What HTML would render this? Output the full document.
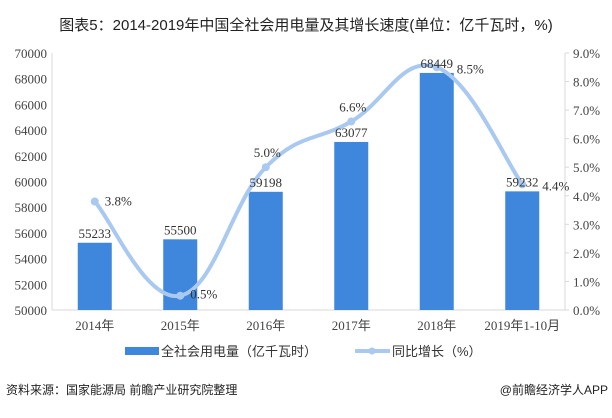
<!DOCTYPE html>
<html><head><meta charset="utf-8"><style>
body{margin:0;background:#fff;font-family:"Liberation Serif","Noto Serif CJK SC",serif;}
svg text{font-family:"Liberation Serif","Noto Sans CJK SC",serif;}
</style></head><body>
<svg id="c" width="612" height="413" xmlns="http://www.w3.org/2000/svg">
<text x="306" y="30" text-anchor="middle" font-size="15" fill="#222" style="font-family:'Liberation Sans','Noto Sans CJK SC',sans-serif">图表5：2014-2019年中国全社会用电量及其增长速度(单位：亿千瓦时，%)</text>
<g id="axes"></g><g id="bars"></g><g id="line"></g><g id="labels"></g>
<g>
<rect x="125" y="347" width="34" height="8" fill="#3f86dd"/>
<text x="161" y="356" font-size="13" fill="#333" style="font-family:'Liberation Sans','Noto Sans CJK SC',sans-serif">全社会用电量（亿千瓦时）</text>
<line x1="355" y1="351" x2="390" y2="351" stroke="#a9c9f1" stroke-width="4"/>
<circle cx="372" cy="351" r="3.5" fill="#a9c9f1"/>
<text x="392" y="356" font-size="13" fill="#333" style="font-family:'Liberation Sans','Noto Sans CJK SC',sans-serif">同比增长（%）</text>
</g>
<text x="6" y="394" font-size="12" fill="#222" style="font-family:'Liberation Sans','Noto Sans CJK SC',sans-serif">资料来源：国家能源局 前瞻产业研究院整理</text>
<text x="608" y="394" font-size="12" fill="#222" text-anchor="end" style="font-family:'Liberation Sans','Noto Sans CJK SC',sans-serif">@前瞻经济学人APP</text>
</svg>
<script>
const categories=["2014年","2015年","2016年","2017年","2018年","2019年1-10月"];
const usage=[55233,55500,59198,63077,68449,59232];
const growth=[3.8,0.5,5.0,6.6,8.5,4.4];
const growthLabels=["3.8%","0.5%","5.0%","6.6%","8.5%","4.4%"];
const leftTicks=[50000,52000,54000,56000,58000,60000,62000,64000,66000,68000,70000];
const rightTicks=[0,1,2,3,4,5,6,7,8,9];
const NS="http://www.w3.org/2000/svg";
const L=52,R=565,T=53,B=310;
const band=(R-L)/categories.length;
const xc=i=>L+band*(i+0.5);
const yL=v=>B-(v-50000)/20000*(B-T);
const yR=v=>B-v/9*(B-T);
function mk(tag,attrs,parent,txt){const e=document.createElementNS(NS,tag);for(const k in attrs)e.setAttribute(k,attrs[k]);if(txt!==undefined)e.textContent=txt;parent.appendChild(e);return e;}
const ax=document.getElementById('axes'),bg=document.getElementById('bars'),lg=document.getElementById('line'),lb=document.getElementById('labels');
let e=mk('line',{x1:L,y1:B,x2:R,y2:B,stroke:'#d9d9d9'},ax);


e=mk('line',{x1:L,y1:T,x2:L,y2:B,stroke:'#d9d9d9'},ax);


e=mk('line',{x1:R,y1:T,x2:R,y2:B,stroke:'#d9d9d9'},ax);


leftTicks.forEach(v=>{const t=mk('text',{x:47,y:yL(v)+5,'text-anchor':'end','font-size':'13',fill:'#444'},ax,String(v));

});
rightTicks.forEach(v=>{mk('line',{x1:R,y1:yR(v),x2:R+4,y2:yR(v),stroke:'#d9d9d9'},ax);const t=mk('text',{x:573,y:yR(v)+5,'font-size':'13',fill:'#444'},ax,v.toFixed(1)+'%');

});
categories.forEach((c,i)=>{const t=mk('text',{x:xc(i),y:330,'text-anchor':'middle','font-size':'13',fill:'#444'},ax,c);

});
usage.forEach((v,i)=>{const r=mk('rect',{x:xc(i)-17,y:yL(v),width:34,height:B-yL(v),fill:'#3f86dd'},bg);


const t=mk('text',{x:xc(i),y:yL(v)-5,'text-anchor':'middle','font-size':'13',fill:'#333'},lb,String(v));

});
const pts=growth.map((g,i)=>[xc(i),yR(g)]);
let d='M'+pts[0].join(',');
for(let i=0;i<pts.length-1;i++){const p0=pts[i-1]||pts[i],p1=pts[i],p2=pts[i+1],p3=pts[i+2]||p2;const k=0.2;
d+=` C${p1[0]+(p2[0]-p0[0])*k},${p1[1]+(p2[1]-p0[1])*k} ${p2[0]-(p3[0]-p1[0])*k},${p2[1]-(p3[1]-p1[1])*k} ${p2[0]},${p2[1]}`;}
const path=mk('path',{d:d,fill:'none',stroke:'#a9c9f1','stroke-width':4,'stroke-linecap':'round'},lg);


pts.forEach((p,i)=>{const c=mk('circle',{cx:p[0],cy:p[1],r:4,fill:'#a9c9f1'},lg);


const t=mk('text',{x:p[0]+10,y:p[1]+4,'font-size':'13',fill:'#333'},lb,growthLabels[i]);
if(i===2||i===3){t.setAttribute('x',p[0]-12);t.setAttribute('y',p[1]-10);}
if(i===1){t.setAttribute('y',p[1]+3);}
if(i===4||i===5){t.setAttribute('x',p[0]+20);t.setAttribute('y',p[1]+6);}

});
</script>
</body></html>
